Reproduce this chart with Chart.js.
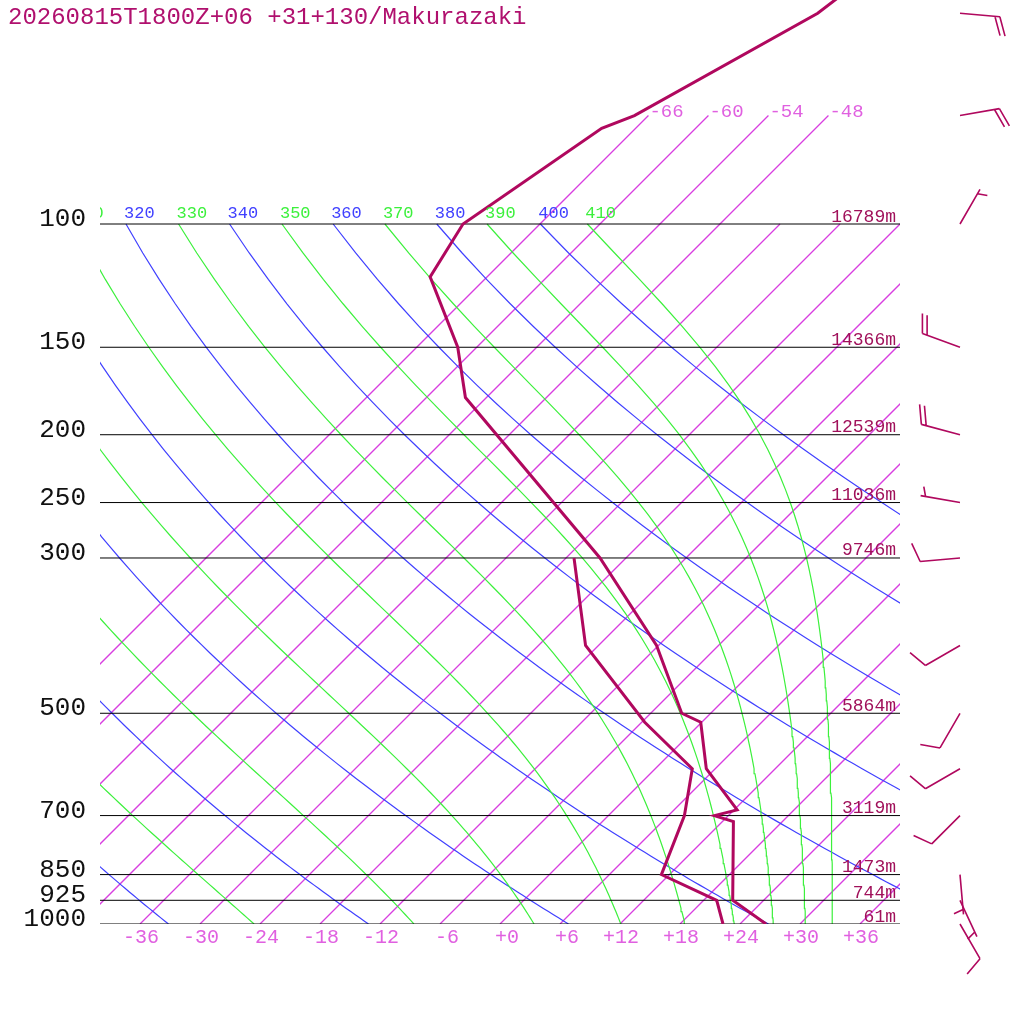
<!DOCTYPE html>
<html>
<head>
<meta charset="utf-8">
<script src="https://cdn.jsdelivr.net/npm/chart.js@4.4.1/dist/chart.umd.min.js"></script>
<style>
  html, body { margin: 0; padding: 0; background: #fff; }
  canvas { display: block; }
</style>
</head>
<body>
<canvas id="skewt" width="1024" height="1024"></canvas>
<script>
// sounding (hPa / degC)
var tempP = [1000, 925, 714, 700, 687, 600, 515, 500, 400, 300, 177, 150, 119, 100, 73, 70, 50, 30];
var tempC = [26.6, 20.9, 13.1, 10.6, 12.3, 5.1, -0.1, -2.9, -12.2, -26.6, -56.1, -61.9, -71.7, -73.7, -69.4, -67.4, -59.3, -54.6];
var dewP = [1000, 925, 850, 700, 600, 515, 400, 300];
var dewC = [22.3, 19.3, 11.2, 7.6, 3.7, -5.7, -19.3, -29.2];

// winds (direction deg, speed kt)
var windP = [1000, 925, 850, 700, 600, 500, 400, 300, 250, 200, 150, 100, 70, 50];
var windDir = [150, 155, 175, 225, 240, 210, 240, 265, 280, 285, 290, 30, 80, 95];
var windKt = [10, 5, 5, 10, 10, 10, 10, 10, 5, 20, 20, 5, 20, 20];

// labelled levels and their heights
var levels = [100, 150, 200, 250, 300, 500, 700, 850, 925, 1000];
var heights = ['16789m', '14366m', '12539m', '11036m', '9746m', '5864m', '3119m', '1473m', '744m', '61m'];

// background lines
var isotherms = [-66, -60, -54, -48, -42, -36, -30, -24, -18, -12, -6, 0, 6, 12, 18, 24, 30, 36];
var thetas = [240, 260, 280, 300, 320, 340, 360, 380, 400];
var thetaEs = [250, 270, 290, 310, 330, 350, 370, 390, 410];

var title = '20260815T1800Z+06 +31+130/Makurazaki';

var SKEW = 70;                               // degC per decade of pressure
var pTop = 1000 / Math.pow(10, 924 / 700);   // pressure at top edge of plot
var MAROON = 'rgb(176,8,94)';
var PURPLE = '#d83ee0';
var BLUE = '#4040ff';
var GREEN = '#3cf03c';
var MONO = '"Liberation Mono", "DejaVu Sans Mono", monospace';

function skx(t, p) { return t + SKEW * Math.log10(1000 / p); }

function satMix(tc, p) {
  var es = 6.112 * Math.exp(17.67 * tc / (tc + 243.5));
  return 0.622 * es / (p - es);
}
function thetaE1000(tc) {
  var r = satMix(tc, 1000) * 1000, tk = tc + 273.15;
  return tk * Math.exp((3.376 / tk - 0.00254) * r * (1 + 0.00081 * r));
}
function startTemp(te) {
  var lo = -80, hi = 50;
  for (var i = 0; i < 50; i++) {
    var mid = (lo + hi) / 2;
    if (thetaE1000(mid) < te) lo = mid; else hi = mid;
  }
  return (lo + hi) / 2;
}
function lapse(tc, p) {
  var t = tc + 273.15, rs = satMix(tc, p);
  var Rd = 287.04, cp = 1005.7, eps = 0.622, Lv = 2.501e6 - 2370 * tc;
  return (Rd * t + Lv * rs) / (cp + Lv * Lv * rs * eps / (Rd * t * t));
}

function dryCurve(th) {
  var pts = [];
  for (var p = 1000; p >= 100; p -= 10) {
    var t = th * Math.pow(p / 1000, 0.2857) - 273.15;
    pts.push({ x: skx(t, p), y: p });
  }
  return pts;
}
function moistCurve(te) {
  var t = startTemp(te), pts = [{ x: skx(t, 1000), y: 1000 }];
  for (var p = 1000; p > 100; p -= 5) {
    var p2 = p - 5, h = Math.log(p2 / p), pm = p * Math.exp(h / 2);
    var k1 = lapse(t, p);
    var k2 = lapse(t + k1 * h / 2, pm);
    var k3 = lapse(t + k2 * h / 2, pm);
    var k4 = lapse(t + k3 * h, p2);
    t += h * (k1 + 2 * k2 + 2 * k3 + k4) / 6;
    if (p2 % 10 === 0) pts.push({ x: skx(t, p2), y: p2 });
  }
  return pts;
}

function line(pts, color, width, order) {
  return { type: 'line', data: pts, borderColor: color, backgroundColor: color,
           borderWidth: width, pointRadius: 0, tension: 0, fill: false, order: order };
}

var dryPts = thetas.map(dryCurve);
var moistPts = thetaEs.map(moistCurve);

var datasets = [];
isotherms.forEach(function (t) {
  var top = t <= -48 ? 70 : 100;
  datasets.push(line([{ x: skx(t, 1000), y: 1000 }, { x: skx(t, top), y: top }], PURPLE, 1.3, 6));
});
dryPts.forEach(function (pts) { datasets.push(line(pts, BLUE, 1.2, 5)); });
moistPts.forEach(function (pts) { datasets.push(line(pts, GREEN, 1.2, 4)); });
levels.forEach(function (p) {
  datasets.push(line([{ x: -40, y: p }, { x: 40, y: p }], '#000', 1, 3));
});
datasets.push(line(dewP.map(function (p, i) { return { x: skx(dewC[i], p), y: p }; }), MAROON, 3, 1));
datasets.push(line(tempP.map(function (p, i) { return { x: skx(tempC[i], p), y: p }; }), MAROON, 3, 0));

function barb(ctx, x0, y0, dir, kt) {
  var a = dir * Math.PI / 180;
  var ux = Math.sin(a), uy = -Math.cos(a);
  var tx = x0 + ux * 40, ty = y0 + uy * 40;
  var fa = Math.atan2(uy, ux) + 70 * Math.PI / 180;
  var fx = Math.cos(fa), fy = Math.sin(fa);
  var full = Math.floor(kt / 10), half = Math.round((kt - full * 10) / 5);
  ctx.beginPath();
  ctx.moveTo(x0, y0);
  ctx.lineTo(tx, ty);
  var d = 0;
  for (var i = 0; i < full; i++) {
    ctx.moveTo(tx - ux * d, ty - uy * d);
    ctx.lineTo(tx - ux * d + fx * 20, ty - uy * d + fy * 20);
    d += 5;
  }
  if (half) {
    if (d === 0) d = 5;
    ctx.moveTo(tx - ux * d, ty - uy * d);
    ctx.lineTo(tx - ux * d + fx * 10, ty - uy * d + fy * 10);
  }
  ctx.stroke();
}

var decor = {
  id: 'decor',
  afterDraw: function (chart) {
    var ctx = chart.ctx, xs = chart.scales.x, ys = chart.scales.y, ca = chart.chartArea;
    ctx.save();

    // adiabat labels along 100 hPa, clipped to the plot
    ctx.save();
    ctx.beginPath();
    ctx.rect(ca.left, ca.top, ca.right - ca.left, ca.bottom - ca.top);
    ctx.clip();
    ctx.font = '17px ' + MONO;
    ctx.textAlign = 'left';
    ctx.textBaseline = 'alphabetic';
    var y100 = ys.getPixelForValue(100);
    thetas.forEach(function (th, i) {
      var last = dryPts[i][dryPts[i].length - 1];
      ctx.fillStyle = BLUE;
      ctx.fillText(String(th), xs.getPixelForValue(last.x) - 2, y100 - 6);
    });
    thetaEs.forEach(function (te, i) {
      var last = moistPts[i][moistPts[i].length - 1];
      ctx.fillStyle = GREEN;
      ctx.fillText(String(te), xs.getPixelForValue(last.x) - 2, y100 - 6);
    });
    ctx.restore();

    // isotherm labels at the top ends
    ctx.font = '19px ' + MONO;
    ctx.fillStyle = '#e060e0';
    ctx.textAlign = 'left';
    isotherms.forEach(function (t) {
      if (t > -48) return;
      var ex = xs.getPixelForValue(skx(t, 70)), ey = ys.getPixelForValue(70);
      ctx.fillText('-' + Math.abs(t), ex + 1, ey + 1);
    });

    // temperature labels along the bottom
    ctx.font = '20px ' + MONO;
    ctx.textAlign = 'right';
    isotherms.forEach(function (t) {
      if (t < -36) return;
      var s = t < 0 ? '-' + Math.abs(t) : '+' + t;
      ctx.fillText(s, xs.getPixelForValue(skx(t, 1000)) + 19, ca.bottom + 19);
    });

    // pressure labels and heights
    levels.forEach(function (p, i) {
      var y = ys.getPixelForValue(p);
      ctx.font = '26px ' + MONO;
      ctx.fillStyle = '#111';
      ctx.textAlign = 'right';
      ctx.fillText(String(p), 86, y + 2);
      ctx.font = '18px ' + MONO;
      ctx.fillStyle = '#a0105a';
      ctx.fillText(heights[i], ca.right - 4, y - 2.5);
    });

    // wind barbs
    ctx.strokeStyle = MAROON;
    ctx.lineWidth = 1.6;
    windP.forEach(function (p, i) {
      barb(ctx, 960, ys.getPixelForValue(p), windDir[i], windKt[i]);
    });

    // title
    ctx.font = '24px ' + MONO;
    ctx.fillStyle = '#b0106e';
    ctx.textAlign = 'left';
    ctx.fillText(title, 8, 24);
    ctx.restore();
  }
};

new Chart(document.getElementById('skewt'), {
  type: 'line',
  data: { datasets: datasets },
  options: {
    responsive: false,
    animation: false,
    devicePixelRatio: 1,
    events: [],
    layout: { padding: { left: 100, right: 124, top: 0, bottom: 100 } },
    plugins: { legend: { display: false }, tooltip: { enabled: false } },
    scales: {
      x: { type: 'linear', min: -40, max: 40, display: false, bounds: 'data' },
      y: { type: 'logarithmic', min: pTop, max: 1000, reverse: true, display: false, bounds: 'data' }
    }
  },
  plugins: [decor]
});
</script>
</body>
</html>
